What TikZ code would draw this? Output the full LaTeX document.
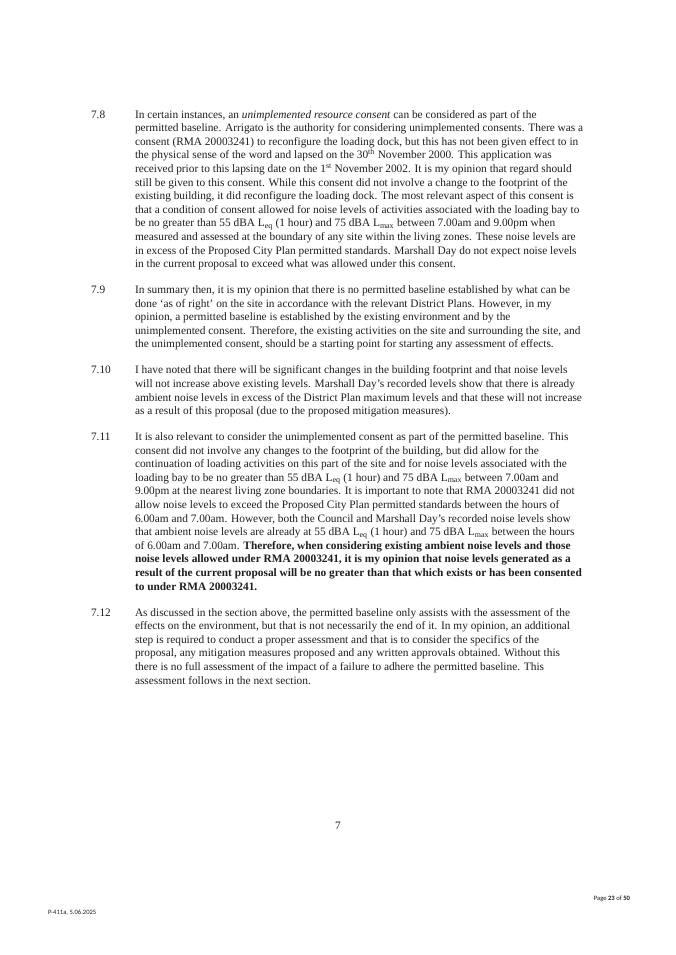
\documentclass[tikz,border=0pt]{standalone}
\usepackage{fontspec}
\setmainfont{Liberation Serif}
\newfontfamily\footfont{Carlito}
\begin{document}
\begin{tikzpicture}[x=1pt,y=-1pt,
  every node/.style={inner sep=0pt, outer sep=0pt, text=black!88},
  bodytext/.style={anchor=base west, align=left, font=\fontsize{11.35}{13.6}\selectfont},
  paranum/.style={anchor=base west, font=\fontsize{11.35}{13.6}\selectfont},
  pagenum/.style={anchor=base, font=\fontsize{11.35}{13.6}\selectfont},
  footer/.style={font=\footfont\fontsize{6.6}{8}\selectfont}]
\useasboundingbox[fill=white] (0,0) rectangle (675,955);

% 7.8 (base anchor = baseline of the last line)
\node[paranum] (n1) at (91,118) {7.8};
\node[bodytext] (p1) at (135,267.6) {In certain instances, an \textit{unimplemented resource consent} can be considered as part of the\\
permitted baseline. Arrigato is the authority for considering unimplemented consents. There was a\\
consent (RMA 20003241) to reconfigure the loading dock, but this has not been given effect to in\\
the physical sense of the word and lapsed on the 30\textsuperscript{th} November 2000. This application was\\
received prior to this lapsing date on the 1\textsuperscript{st} November 2002. It is my opinion that regard should\\
still be given to this consent. While this consent did not involve a change to the footprint of the\\
existing building, it did reconfigure the loading dock. The most relevant aspect of this consent is\\
that a condition of consent allowed for noise levels of activities associated with the loading bay to\\
be no greater than 55 dBA L\textsubscript{eq} (1 hour) and 75 dBA L\textsubscript{max} between 7.00am and 9.00pm when\\
measured and assessed at the boundary of any site within the living zones. These noise levels are\\
in excess of the Proposed City Plan permitted standards. Marshall Day do not expect noise levels\\
in the current proposal to exceed what was allowed under this consent.};

% 7.9
\node[paranum] (n2) at (91,293.5) {7.9};
\node[bodytext] (p2) at (135,347.9) {In summary then, it is my opinion that there is no permitted baseline established by what can be\\
done ‘as of right’ on the site in accordance with the relevant District Plans. However, in my\\
opinion, a permitted baseline is established by the existing environment and by the\\
unimplemented consent. Therefore, the existing activities on the site and surrounding the site, and\\
the unimplemented consent, should be a starting point for starting any assessment of effects.};

% 7.10
\node[paranum] (n3) at (91,373.8) {7.10};
\node[bodytext] (p3) at (135,414.6) {I have noted that there will be significant changes in the building footprint and that noise levels\\
will not increase above existing levels. Marshall Day’s recorded levels show that there is already\\
ambient noise levels in excess of the District Plan maximum levels and that these will not increase\\
as a result of this proposal (due to the proposed mitigation measures).};

% 7.11
\node[paranum] (n4) at (91,440.5) {7.11};
\node[bodytext] (p4) at (135,590.1) {It is also relevant to consider the unimplemented consent as part of the permitted baseline. This\\
consent did not involve any changes to the footprint of the building, but did allow for the\\
continuation of loading activities on this part of the site and for noise levels associated with the\\
loading bay to be no greater than 55 dBA L\textsubscript{eq} (1 hour) and 75 dBA L\textsubscript{max} between 7.00am and\\
9.00pm at the nearest living zone boundaries. It is important to note that RMA 20003241 did not\\
allow noise levels to exceed the Proposed City Plan permitted standards between the hours of\\
6.00am and 7.00am. However, both the Council and Marshall Day’s recorded noise levels show\\
that ambient noise levels are already at 55 dBA L\textsubscript{eq} (1 hour) and 75 dBA L\textsubscript{max} between the hours\\
of 6.00am and 7.00am. \textbf{Therefore, when considering existing ambient noise levels and those}\\
\textbf{noise levels allowed under RMA 20003241, it is my opinion that noise levels generated as a}\\
\textbf{result of the current proposal will be no greater than that which exists or has been consented}\\
\textbf{to under RMA 20003241.}};

% 7.12
\node[paranum] (n5) at (91,616) {7.12};
\node[bodytext] (p5) at (135,684) {As discussed in the section above, the permitted baseline only assists with the assessment of the\\
effects on the environment, but that is not necessarily the end of it. In my opinion, an additional\\
step is required to conduct a proper assessment and that is to consider the specifics of the\\
proposal, any mitigation measures proposed and any written approvals obtained. Without this\\
there is no full assessment of the impact of a failure to adhere the permitted baseline. This\\
assessment follows in the next section.};

% page number and footer
\node[pagenum] (pg) at (338,829) {7};
\node[footer, anchor=base east] (pgof) at (630,900) {Page \textbf{23} of \textbf{50}};
\node[footer, anchor=base west] (ref) at (48,914) {P-411a, 5.06.2025};
\end{tikzpicture}
\end{document}
